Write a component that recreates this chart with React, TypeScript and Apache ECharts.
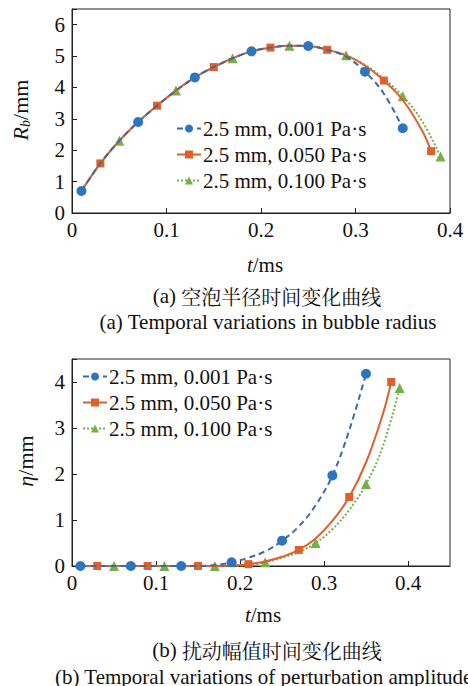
import React, { useEffect, useRef } from "react";
import * as echarts from "echarts";

// ---------- data ----------
const seriesNames = ["2.5 mm, 0.001 Pa·s", "2.5 mm, 0.050 Pa·s", "2.5 mm, 0.100 Pa·s"];

// (a) bubble radius Rb (mm) vs t (ms)
const rbT1 = [0.01, 0.03, 0.05, 0.07, 0.09, 0.11, 0.13, 0.15, 0.17, 0.19, 0.21, 0.23, 0.25, 0.27, 0.29, 0.31, 0.33, 0.35];
const rbV1 = [0.7, 1.58, 2.3, 2.9, 3.42, 3.9, 4.32, 4.65, 4.93, 5.15, 5.27, 5.33, 5.32, 5.2, 4.98, 4.5, 3.8, 2.7];
const rbT2 = [0.01, 0.03, 0.05, 0.07, 0.09, 0.11, 0.13, 0.15, 0.17, 0.19, 0.21, 0.23, 0.25, 0.27, 0.29, 0.31, 0.33, 0.35, 0.37, 0.38];
const rbV2 = [0.7, 1.58, 2.3, 2.9, 3.42, 3.9, 4.32, 4.65, 4.93, 5.15, 5.27, 5.33, 5.32, 5.2, 5.02, 4.7, 4.22, 3.6, 2.65, 1.97];
const rbT3 = [0.01, 0.03, 0.05, 0.07, 0.09, 0.11, 0.13, 0.15, 0.17, 0.19, 0.21, 0.23, 0.25, 0.27, 0.29, 0.31, 0.33, 0.35, 0.37, 0.39];
const rbV3 = [0.7, 1.58, 2.3, 2.9, 3.42, 3.9, 4.32, 4.65, 4.93, 5.15, 5.27, 5.33, 5.32, 5.2, 5.03, 4.72, 4.28, 3.72, 2.95, 1.8];

// (b) perturbation amplitude eta (mm) vs t (ms)
const etaT1 = [0.01, 0.03, 0.05, 0.07, 0.09, 0.11, 0.13, 0.15, 0.17, 0.19, 0.21, 0.23, 0.25, 0.27, 0.29, 0.31, 0.33, 0.35];
const etaV1 = [0, 0, 0, 0, 0, 0, 0, 0, 0.02, 0.08, 0.18, 0.32, 0.55, 0.86, 1.32, 1.97, 2.95, 4.18];
const etaT2 = [0.01, 0.03, 0.05, 0.07, 0.09, 0.11, 0.13, 0.15, 0.17, 0.19, 0.21, 0.23, 0.25, 0.27, 0.29, 0.31, 0.33, 0.35, 0.37, 0.38];
const etaV2 = [0, 0, 0, 0, 0, 0, 0, 0, 0, 0.01, 0.04, 0.1, 0.2, 0.35, 0.6, 0.98, 1.5, 2.25, 3.3, 4.0];
const etaT3 = [0.01, 0.03, 0.05, 0.07, 0.09, 0.11, 0.13, 0.15, 0.17, 0.19, 0.21, 0.23, 0.25, 0.27, 0.29, 0.31, 0.33, 0.35, 0.37, 0.39];
const etaV3 = [0, 0, 0, 0, 0, 0, 0, 0, 0, 0, 0.02, 0.08, 0.18, 0.3, 0.5, 0.8, 1.22, 1.78, 2.6, 3.87];

// times at which markers are drawn
const markT1 = [0.01, 0.07, 0.13, 0.19, 0.25, 0.31, 0.35];
const markT2 = [0.03, 0.09, 0.15, 0.21, 0.27, 0.33, 0.38];
const markT3 = [0.05, 0.11, 0.17, 0.23, 0.29, 0.35, 0.39];

const xTicksTop = [0, 0.1, 0.2, 0.3, 0.4];
const yTicksTop = [0, 1, 2, 3, 4, 5, 6];
const yTicksBottom = [0, 1, 2, 3, 4];

const FONT = "Times New Roman";
const CJK = "Noto Serif CJK SC";

const BLUE = "#2e75c0";
const BLUE_LINE = "#3b6aa8";
const ORANGE = "#e0602c";
const GREEN = "#72b048";

function build(ts: number[], vs: number[], marks: number[]) {
  return ts.map((t, i) => {
    const shown = marks.some((m) => Math.abs(m - t) < 1e-9);
    return shown ? { value: [t, vs[i]] } : { value: [t, vs[i]], symbol: "none" };
  });
}

const styles = [
  { color: BLUE, line: BLUE_LINE, type: [6, 4] as any, symbol: "circle", size: 10 },
  { color: ORANGE, line: ORANGE, type: "solid" as any, symbol: "rect", size: 8 },
  { color: GREEN, line: GREEN, type: [2, 2] as any, symbol: "triangle", size: 10 },
];

export default function App() {
  const ref = useRef<HTMLDivElement>(null);
  useEffect(() => {
    if (!ref.current) return;
    const chart = echarts.init(ref.current, null, { renderer: "svg" });

    const topData = [build(rbT1, rbV1, markT1), build(rbT2, rbV2, markT2), build(rbT3, rbV3, markT3)];
    const botData = [build(etaT1, etaV1, markT1), build(etaT2, etaV2, markT2), build(etaT3, etaV3, markT3)];

    const mkSeries = (data: any[], gi: number) =>
      data.map((d, i) => ({
        name: seriesNames[i],
        type: "line",
        xAxisIndex: gi,
        yAxisIndex: gi,
        data: d,
        smooth: 0.4,
        symbol: styles[i].symbol,
        symbolSize: styles[i].size,
        showSymbol: true,
        itemStyle: { color: styles[i].color },
        lineStyle: { color: styles[i].line, width: 2, type: styles[i].type },
        z: 3 + (2 - i),
      }));

    const axisCommon = {
      axisLine: { show: true, lineStyle: { color: "#222", width: 1 } },
      axisTick: { show: true, inside: true, length: 5, lineStyle: { color: "#222" } },
      splitLine: { show: false },
    };

    const labelStyle = { color: "#111", fontSize: 21, fontFamily: FONT };

    const capRich = {
      l: { fontFamily: FONT, fontSize: 21, fill: "#111", lineHeight: 20 },
      c: { fontFamily: CJK, fontSize: 20, fill: "#111", lineHeight: 20 },
    };

    chart.setOption({
      animation: false,
      backgroundColor: "#fff",
      grid: [
        { left: 72, top: 9, width: 378, height: 204, show: true, borderColor: "#222", borderWidth: 1, backgroundColor: "transparent" },
        { left: 72, top: 359, width: 378, height: 207, show: true, borderColor: "#222", borderWidth: 1, backgroundColor: "transparent" },
      ],
      xAxis: [
        {
          type: "value", gridIndex: 0, min: 0, max: 0.4, interval: 0.1, ...axisCommon,
          axisLabel: { ...labelStyle, margin: 6, formatter: (v: number) => (xTicksTop.some((t) => Math.abs(t - v) < 1e-9) ? String(+v.toFixed(1)) : "") },
        },
        {
          type: "value", gridIndex: 1, min: 0, max: 0.45, interval: 0.1, ...axisCommon,
          axisLabel: { ...labelStyle, margin: 6, showMaxLabel: false, formatter: (v: number) => (Math.abs(v * 10 - Math.round(v * 10)) < 1e-9 ? String(+v.toFixed(1)) : "") },
        },
      ],
      yAxis: [
        {
          type: "value", gridIndex: 0, min: 0, max: 6.5, interval: 1, ...axisCommon,
          axisLabel: { ...labelStyle, margin: 7, formatter: (v: number) => (yTicksTop.includes(v) ? String(v) : "") },
        },
        {
          type: "value", gridIndex: 1, min: 0, max: 4.5, interval: 1, ...axisCommon,
          axisLabel: { ...labelStyle, margin: 7, formatter: (v: number) => (yTicksBottom.includes(v) ? String(v) : "") },
        },
      ],
      legend: [
        {
          orient: "vertical", left: 176, top: 118, padding: 0, itemWidth: 24, itemHeight: 10, itemGap: 5,
          textStyle: { ...labelStyle, padding: [0, 0, 0, -3] }, data: seriesNames, selectedMode: false,
        },
        {
          orient: "vertical", left: 82, top: 366, padding: 0, itemWidth: 24, itemHeight: 10, itemGap: 5,
          textStyle: { ...labelStyle, padding: [0, 0, 0, -3] }, data: seriesNames, selectedMode: false,
        },
      ],
      graphic: [
        {
          type: "text", x: 20, y: 110, rotation: Math.PI / 2,
          style: {
            text: "{i|R}{s|b}{n|/mm}", align: "center", verticalAlign: "middle",
            rich: {
              i: { fontFamily: FONT, fontSize: 22, fontStyle: "italic", fill: "#111" },
              s: { fontFamily: FONT, fontSize: 14, fontStyle: "italic", fill: "#111", padding: [10, 0, 0, 0] },
              n: { fontFamily: FONT, fontSize: 22, fill: "#111" },
            },
          },
        },
        {
          type: "text", x: 265, y: 265,
          style: {
            text: "{i|t}{n|/ms}", align: "center", verticalAlign: "middle",
            rich: {
              i: { fontFamily: FONT, fontSize: 21, fontStyle: "italic", fill: "#111" },
              n: { fontFamily: FONT, fontSize: 21, fill: "#111" },
            },
          },
        },
        {
          type: "text", x: 267, y: 296,
          style: { text: "{l|(a) }{c|空泡半径时间变化曲线}", align: "center", verticalAlign: "middle", rich: capRich },
        },
        {
          type: "text", x: 268, y: 322,
          style: { text: "(a) Temporal variations in bubble radius", align: "center", verticalAlign: "middle", fontFamily: FONT, fontSize: 21, lineHeight: 20, fill: "#111" },
        },
        {
          type: "text", x: 25, y: 461, rotation: Math.PI / 2,
          style: {
            text: "{i|η}{n|/mm}", align: "center", verticalAlign: "middle",
            rich: {
              i: { fontFamily: FONT, fontSize: 22, fontStyle: "italic", fill: "#111" },
              n: { fontFamily: FONT, fontSize: 22, fill: "#111" },
            },
          },
        },
        {
          type: "text", x: 263, y: 615,
          style: {
            text: "{i|t}{n|/ms}", align: "center", verticalAlign: "middle",
            rich: {
              i: { fontFamily: FONT, fontSize: 21, fontStyle: "italic", fill: "#111" },
              n: { fontFamily: FONT, fontSize: 21, fill: "#111" },
            },
          },
        },
        {
          type: "text", x: 267, y: 650,
          style: { text: "{l|(b) }{c|扰动幅值时间变化曲线}", align: "center", verticalAlign: "middle", rich: capRich },
        },
        {
          type: "text", x: 55, y: 677,
          style: { text: "(b) Temporal variations of perturbation amplitude", align: "left", verticalAlign: "middle", fontFamily: FONT, fontSize: 21, lineHeight: 20, fill: "#111" },
        },
      ],
      series: [...mkSeries(topData, 0), ...mkSeries(botData, 1)],
    });

    return () => chart.dispose();
  }, []);

  return <div ref={ref} style={{ position: "absolute", left: 0, top: 0, width: 468, height: 686 }} />;
}
